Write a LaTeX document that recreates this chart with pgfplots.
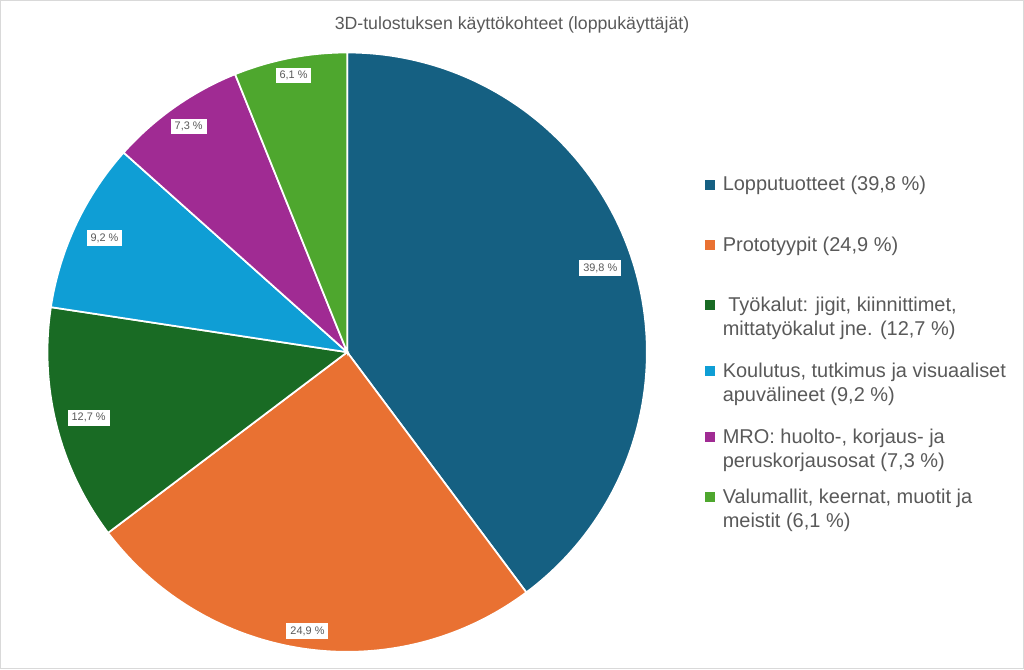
\documentclass[border=0pt]{standalone}
\usepackage{pgfplots}
\pgfplotsset{compat=1.18}
\usepackage{fontspec}
\setmainfont{Liberation Sans}
\definecolor{c1}{HTML}{156082}
\definecolor{c2}{HTML}{E97132}
\definecolor{c3}{HTML}{196B24}
\definecolor{c4}{HTML}{0F9ED5}
\definecolor{c5}{HTML}{A02B93}
\definecolor{c6}{HTML}{4EA72E}
\definecolor{txt}{HTML}{595959}
\begin{document}
\begin{tikzpicture}
\begin{axis}[
  scale only axis, width=768pt, height=501.75pt,
  xmin=-1.15667, xmax=2.25667, ymin=-1.05667, ymax=1.17333,
  axis line style={draw=black!15, line width=0.8pt},
  xtick=\empty, ytick=\empty, clip=false,
  legend image code/.code={\fill[#1, draw=none] (0pt,0.75pt) rectangle (7.5pt,8.25pt);},
  legend style={at={(axis cs:1.1933,0.586)}, anchor=north west, draw=none, fill=none,
    inner sep=0pt, outer sep=0pt,
    font=\fontsize{15}{18}\selectfont, text=txt, row sep=0pt,
    nodes={inner sep=0pt, text height=10.5pt},
    cells={anchor=base west}, /tikz/every odd column/.append style={column sep=6pt}},
]
% slices: percentages 39.8, 24.9, 12.7, 9.2, 7.3, 6.1 (angles = 3.6 * percent, clockwise from 90 deg)
\addplot[fill=c1, draw=white, line width=1.3pt, domain=90:-53.28, samples=120] ({cos(x)},{sin(x)}) -- (axis cs:0,0) -- cycle;
\addlegendentry[text depth=35.25pt]{Lopputuotteet (39,8 \%)}
\addplot[fill=c2, draw=white, line width=1.3pt, domain=-53.28:-142.92, samples=80] ({cos(x)},{sin(x)}) -- (axis cs:0,0) -- cycle;
\addlegendentry[text depth=34.5pt]{Prototyypit (24,9 \%)}
\addplot[fill=c3, draw=white, line width=1.3pt, domain=-142.92:-188.64, samples=50] ({cos(x)},{sin(x)}) -- (axis cs:0,0) -- cycle;
\addlegendentry[text depth=39pt]{\begin{tabular}[t]{@{}l@{}}\ Työkalut: jigit, kiinnittimet,\\mittatyökalut jne. (12,7 \%)\end{tabular}}
\addplot[fill=c4, draw=white, line width=1.3pt, domain=-188.64:-221.76, samples=40] ({cos(x)},{sin(x)}) -- (axis cs:0,0) -- cycle;
\addlegendentry[text depth=39pt]{\begin{tabular}[t]{@{}l@{}}Koulutus, tutkimus ja visuaaliset\\apuvälineet (9,2 \%)\end{tabular}}
\addplot[fill=c5, draw=white, line width=1.3pt, domain=-221.76:-248.04, samples=40] ({cos(x)},{sin(x)}) -- (axis cs:0,0) -- cycle;
\addlegendentry[text depth=34.5pt]{\begin{tabular}[t]{@{}l@{}}MRO: huolto-, korjaus- ja\\peruskorjausosat (7,3 \%)\end{tabular}}
\addplot[fill=c6, draw=white, line width=1.3pt, domain=-248.04:-270, samples=30] ({cos(x)},{sin(x)}) -- (axis cs:0,0) -- cycle;
\addlegendentry[text depth=20pt]{\begin{tabular}[t]{@{}l@{}}Valumallit, keernat, muotit ja\\meistit (6,1 \%)\end{tabular}}
% data labels (polar: angle, radius)
\addplot[forget plot, draw=none, mark=none, data cs=polar,
  nodes near coords, point meta=explicit symbolic,
  every node near coord/.append style={anchor=center, fill=white, inner xsep=3pt, inner ysep=2.5pt,
    font=\fontsize{8.2}{9}\selectfont, text=txt}]
  coordinates {
  (18.36,0.89) [39,8 \%]
  (-98.1,0.94) [24,9 \%]
  (-165.78,0.89) [12,7 \%]
  (-205.2,0.895) [9,2 \%]
  (-234.9,0.92) [7,3 \%]
  (-259.02,0.94) [6,1 \%]
  };
\node[text=txt, font=\fontsize{13.3}{15}\selectfont] at (axis cs:0.55,1.0933) {3D-tulostuksen käyttökohteet (loppukäyttäjät)};
\end{axis}
\end{tikzpicture}
\end{document}
